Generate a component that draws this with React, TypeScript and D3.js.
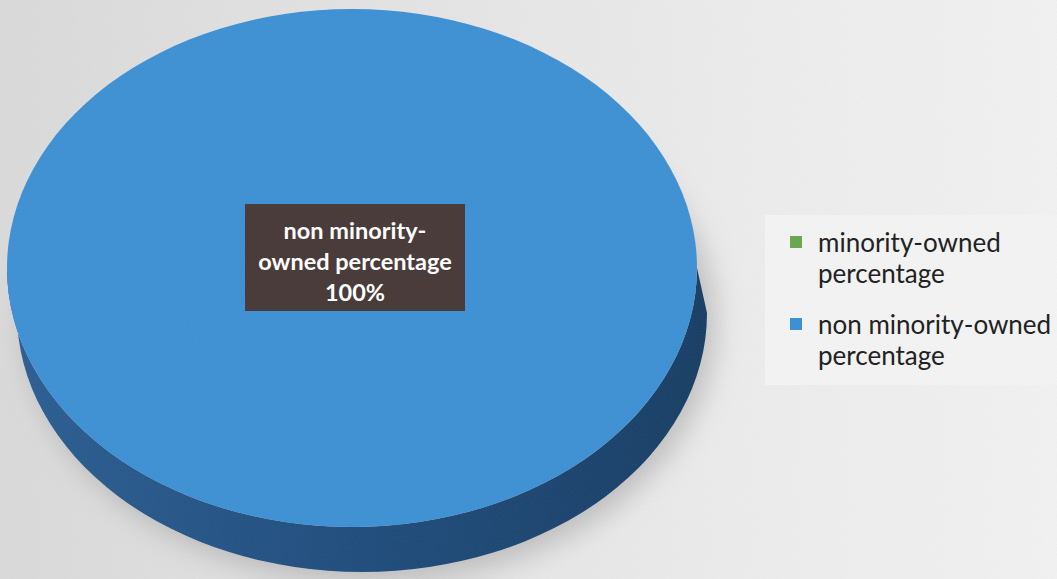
import React from "react";
import * as d3 from "d3";

const categories = ["minority-owned percentage", "non minority-owned percentage"];
const values = [0, 100];
const colors = ["#6aa84f", "#3c90d4"];
const sideColors = ["#3f6b2a", "#1d4b7c"];

const W = 1057;
const H = 579;

export default function App() {
  const cx = 352, cy = 268, rx = 345, ry = 259, depth = 45, dx = 10;
  const pie = d3.pie<number>().sort(null).startAngle(0).endAngle(2 * Math.PI);
  const arcs = pie(values);
  const arcGen = d3.arc<d3.PieArcDatum<number>>().innerRadius(0).outerRadius(1);
  const color = d3.scaleOrdinal<string, string>().domain(categories).range(colors);
  const side = d3.scaleOrdinal<string, string>().domain(categories).range(sideColors);
  const total = d3.sum(values);
  const fmt = d3.format(".0%");
  const main = arcs.reduce((a, b) => (b.value > a.value ? b : a));
  const mainIdx = main.index;

  const sidePath =
    `M${cx - rx},${cy} L${cx - rx + dx},${cy + depth} ` +
    `A${rx},${ry} 0 0 0 ${cx + rx + dx},${cy + depth} ` +
    `L${cx + rx},${cy} A${rx},${ry} 0 0 1 ${cx - rx},${cy} Z`;

  return (
    <svg width={W} height={H} style={{ position: "absolute", left: 0, top: 0, display: "block" }}>
      <defs>
        <linearGradient id="bg" x1="0" y1="0" x2="1" y2="0">
          <stop offset="0" stopColor="#dadada" />
          <stop offset="0.7" stopColor="#ececec" />
          <stop offset="1" stopColor="#f2f2f2" />
        </linearGradient>
        <linearGradient id="sideg" x1="0" y1="0" x2="1" y2="0">
          <stop offset="0" stopColor="#2a5d92" />
          <stop offset="0.5" stopColor={side(categories[mainIdx])} />
          <stop offset="1" stopColor="#163c63" />
        </linearGradient>
        <filter id="blur" x="-20%" y="-20%" width="140%" height="140%">
          <feGaussianBlur stdDeviation="14" />
        </filter>
        <filter id="noise">
          <feTurbulence type="fractalNoise" baseFrequency="0.9" numOctaves="2" result="n" />
          <feColorMatrix type="saturate" values="0" />
          <feComponentTransfer><feFuncA type="linear" slope="0.08" /></feComponentTransfer>
        </filter>
      </defs>
      <rect x={0} y={0} width={W} height={H} fill="url(#bg)" />
      <rect x={765} y={215} width={292} height={170} fill="#f4f4f4" />
      <ellipse cx={cx + dx + 8} cy={cy + depth + 10} rx={rx} ry={ry} fill="#9a9a9a" opacity={0.55} filter="url(#blur)" />
      <path d={sidePath} fill="url(#sideg)" />
      <g transform={`translate(${cx},${cy}) scale(${rx},${ry})`}>
        {arcs.map((a, i) => (
          <path key={i} d={arcGen(a) || ""} fill={color(categories[i])} />
        ))}
      </g>
      <rect x={0} y={0} width={W} height={H} filter="url(#noise)" />
      <g>
        <rect x={245} y={204} width={220} height={107} fill="#4a3c3a" />
        {["non minority-", "owned percentage", fmt(main.value / total)].map((t, i) => (
          <text key={i} x={355} y={239 + i * 31} textAnchor="middle" fill="#ffffff"
            fontFamily="Lato, 'Open Sans', sans-serif" fontWeight={700} fontSize={23.5}>{t}</text>
        ))}
      </g>
      <g fontFamily="Lato, 'Open Sans', sans-serif" fontSize={26} fill="#222222">
        {categories.map((c, i) => {
          const y0 = 236 + i * 82;
          const words = c.replace(" percentage", "");
          return (
            <g key={c}>
              <rect x={790} y={y0} width={12} height={12} fill={color(c)} />
              <text x={818} y={y0 + 16}>{words}</text>
              <text x={818} y={y0 + 47}>percentage</text>
            </g>
          );
        })}
      </g>
    </svg>
  );
}
